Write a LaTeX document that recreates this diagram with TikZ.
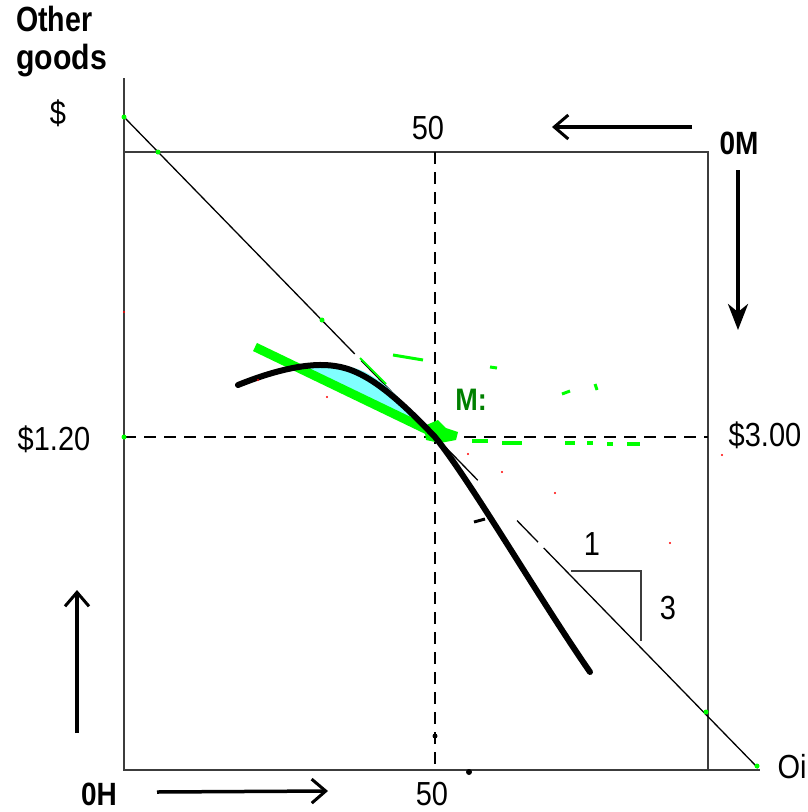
\documentclass[tikz,border=0pt]{standalone}
\usepackage{fontspec}
\setmainfont{Liberation Sans}
\usetikzlibrary{arrows.meta}
\definecolor{gr}{RGB}{0,255,0}
\definecolor{dgr}{RGB}{0,128,0}
\definecolor{cy}{RGB}{128,255,255}
\definecolor{axc}{RGB}{60,60,60}
\newcommand{\tallt}[1]{\scalebox{1}[1.15]{#1}}
\begin{document}
\begin{tikzpicture}[x=1pt,y=-1pt,
  lbl/.style={font=\fontsize{29}{32}\selectfont, inner sep=0pt},
  blbl/.style={font=\fontsize{28}{31}\selectfont\bfseries, inner sep=0pt},
  axis/.style={line width=2pt, draw=axc},
  dashline/.style={line width=2pt, dash pattern=on 12pt off 8pt},
  bud/.style={line width=1.3pt},
  thick curve/.style={line width=6pt, line cap=round},
  barb/.style={line width=3.5pt, -{Straight Barb[length=14pt,width=24pt,line width=3pt]}},
  fillarrow/.style={line width=3.5pt, -{Stealth[length=26pt,width=20pt,inset=8pt]}},
  gbit/.style={draw=gr, line width=3pt},
  gdot/.style={fill=gr, circle, inner sep=0pt, minimum size=5pt},
]
\useasboundingbox (0,0) rectangle (808,812);

% key points
\coordinate (ytop) at (124,78);
\coordinate (O) at (124,770);
\coordinate (xr) at (760,770);
\coordinate (tl) at (124,152);
\coordinate (tr) at (708,152);
\coordinate (br) at (708,770);
\coordinate (d1) at (435,152);
\coordinate (d2) at (435,770);
\coordinate (h1) at (124,437);
\coordinate (h2) at (708,437);
\coordinate (b1) at (124,117);
\coordinate (b2) at (758,768);
\coordinate (t1) at (571,571);
\coordinate (t2) at (641,571);
\coordinate (t3) at (641,641);
\coordinate (E) at (435,437);

% frame and axes
\draw[axis] (ytop) -- (O) -- (xr);
\draw[axis] (tl) -- (tr) -- (br);
\draw[dashline] (d1) -- (d2);
\draw[dashline] (h1) -- (h2);

% budget line with small gaps
\path (b1) -- (b2)
  coordinate[pos=0.364] (g1) coordinate[pos=0.374] (g2)
  coordinate[pos=0.558] (g3) coordinate[pos=0.620] (g4)
  coordinate[pos=0.653] (g5) coordinate[pos=0.662] (g6);
\draw[bud] (b1) -- (g1) (g2) -- (g3) (g4) -- (g5) (g6) -- (b2);

% slope triangle
\draw[line width=2pt, draw=axc] (t1) -- (t2) -- (t3);

% cyan area
\fill[cy] (295,369) .. controls (320,361) and (345,363) .. (365,372)
  .. controls (390,385) and (410,410) .. (432,432) -- cycle;

% green line and bits
\coordinate (gA) at (255,347);
\coordinate (gB) at (442,437);
\draw[gr, line width=9pt] (gA) -- (gB);
\fill[gr] (424,426) -- (438,420) -- (446,428) -- (458,432) -- (456,440) -- (440,443) -- (426,440) -- cycle;
\draw[gbit] (393,355) -- (423,360);
\draw[gbit] (490,367) -- (497,368);
\draw[gbit] (562,394) -- (570,391);
\draw[gbit] (595,384) -- (597,390);
\draw[gr, line width=2pt] (360,358) -- (386,384);
\draw[gbit, line width=4pt] (472,441) -- (488,441) (502,443) -- (522,443) (565,443) -- (575,443)
  (587,443) -- (593,443) (607,444) -- (613,444) (627,444) -- (640,444);
\node[gdot] (p1) at (b1) {};
\node[gdot] (p2) at (158,152) {};
\node[gdot] (p3) at (322,320) {};
\node[gdot] (p4) at (h1) {};
\node[gdot] (p5) at (706,712) {};
\node[gdot] (p6) at (757,766) {};

% black curve
\draw[thick curve] (238,385) .. controls (275,370) and (310,362) .. (335,366)
  .. controls (365,370) and (395,395) .. (E)
  .. controls (470,480) and (540,600) .. (590,672);
\draw[line width=3pt] (474,522) -- (485,519);
\fill (435,736) circle (2.5pt);
\fill (469,772) circle (3pt);

% red specks
\fill[red] (124,312) circle (1.2pt);
\fill[red] (258,380) circle (1.2pt);
\fill[red] (327,397) circle (1.2pt);
\fill[red] (468,454) circle (1.2pt);
\fill[red] (502,472) circle (1.2pt);
\fill[red] (555,493) circle (1.2pt);
\fill[red] (670,543) circle (1.2pt);
\fill[red] (722,455) circle (1.2pt);

% direction arrows
\coordinate (a1s) at (692,127); \coordinate (a1e) at (552,127);
\coordinate (a2s) at (738,170); \coordinate (a2e) at (738,330);
\coordinate (a3s) at (77,733);  \coordinate (a3e) at (77,590);
\coordinate (a4s) at (157,792); \coordinate (a4e) at (328,791);
\draw[barb] (a1s) -- (a1e);
\draw[fillarrow] (a2s) -- (a2e);
\draw[barb] (a3s) -- (a3e);
\draw[barb] (a4s) -- (a4e);

% labels
\node[blbl, anchor=north west] (og1) at (16,6) {\scalebox{1.02}[1.25]{Other}};
\node[blbl, anchor=north west] (og2) at (16,44) {\scalebox{1.08}[1.25]{goods}};
\node[lbl] (dol) at (58,113) {\tallt{\$}};
\node[lbl] (f50t) at (428,128) {\tallt{50}};
\node[blbl] (om) at (739,143) {\tallt{0M}};
\node[lbl] (p120) at (54,439) {\tallt{\$1.20}};
\node[lbl] (p300) at (765,435) {\tallt{\$3.00}};
\node[lbl] (one) at (592,544) {\tallt{1}};
\node[lbl] (three) at (668,608) {\tallt{3}};
\node[lbl] (oi) at (792,767) {\tallt{Oi}};
\node[lbl] (f50b) at (432,794) {\tallt{50}};
\node[blbl] (oh) at (99,794) {\tallt{0H}};
\node[blbl, text=dgr, font=\fontsize{27}{29}\selectfont\bfseries] (m) at (471,400) {\tallt{M:}};
\end{tikzpicture}
\end{document}
